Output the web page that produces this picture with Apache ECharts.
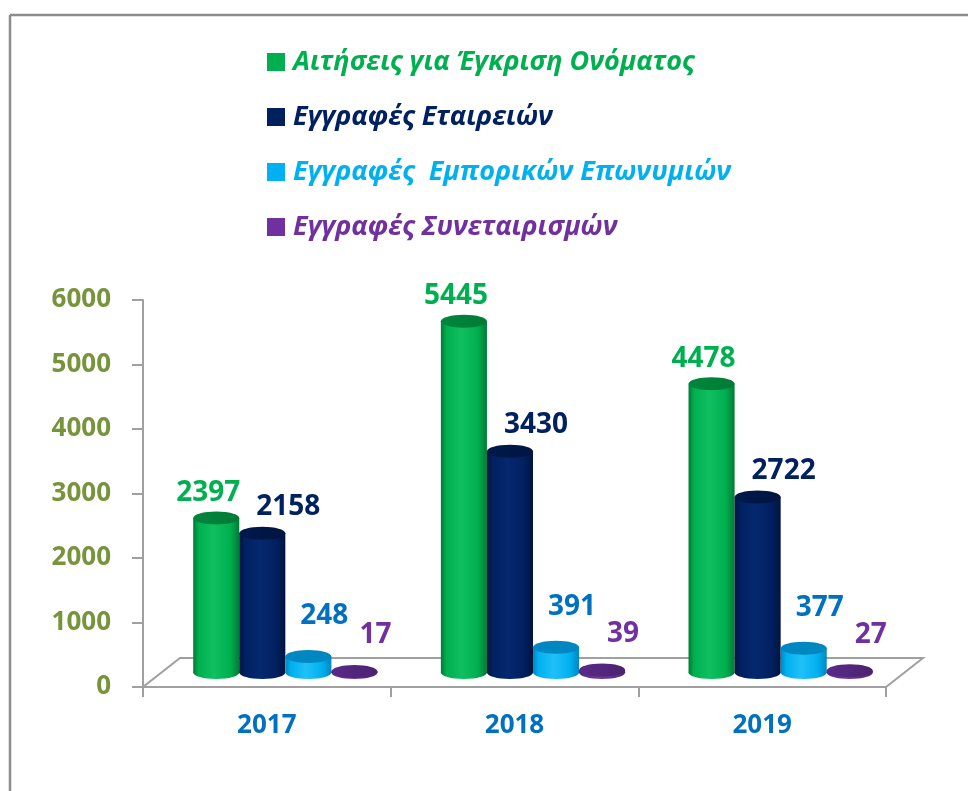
<!DOCTYPE html>
<html>
<head>
<meta charset="utf-8">
<script src="https://cdn.jsdelivr.net/npm/echarts@6/dist/echarts.min.js"></script>
<style>
html,body{margin:0;padding:0;background:#fff;}
#chart{width:968px;height:791px;}
</style>
</head>
<body>
<div id="chart"></div>
<script>
// ---- data ----
const categories = ['2017', '2018', '2019'];
const seriesNames = [
  'Αιτήσεις για Έγκριση Ονόματος',
  'Εγγραφές Εταιρειών',
  'Εγγραφές  Εμπορικών Επωνυμιών',
  'Εγγραφές Συνεταιρισμών'
];
const nameApplications = [2397, 5445, 4478];
const companyRegistrations = [2158, 3430, 2722];
const tradeNameRegistrations = [248, 391, 377];
const cooperativeRegistrations = [17, 39, 27];
const yMin = 0, yMax = 6000, yInterval = 1000;

// ---- styles ----
const FONT = '"Open Sans", "Noto Sans", sans-serif';
const styles = [
  { edge: '#007A35', mid: '#00B050', light: '#10C060', top: '#00873D', label: '#00B050', legend: '#00B050', labelDx: -8, labelDy: -25 },
  { edge: '#00143F', mid: '#002060', light: '#06286E', top: '#001A4D', label: '#002060', legend: '#002060', labelDx: 26, labelDy: -26 },
  { edge: '#0086C0', mid: '#00B0F0', light: '#20C0F8', top: '#0088C4', label: '#0070C0', legend: '#00B0F0', labelDx: 16, labelDy: -40 },
  { edge: '#4A2270', mid: '#5C2D91', light: '#6A3A9E', top: '#5C2A88', label: '#7030A0', legend: '#7030A0', labelDx: 21, labelDy: -36 }
];
const seriesData = [nameApplications, companyRegistrations, tradeNameRegistrations, cooperativeRegistrations];
const DEPTH_X = 37, DEPTH_Y = -29;
const BAR_FRACTION = 0.186;
const ELLIPSE_RY = 6.5;

function makeRender(k) {
  const st = styles[k];
  return function (params, api) {
    const ci = api.value(0);
    const v = api.value(1);
    const base = api.coord([ci, 0]);
    const top = api.coord([ci, v]);
    const band = api.size([1, 0])[0];
    const w = band * BAR_FRACTION;
    const x0 = base[0] - 2 * w + k * w;
    const cx = x0 + w / 2;
    const grad = new echarts.graphic.LinearGradient(0, 0, 1, 0, [
      { offset: 0, color: st.edge },
      { offset: 0.12, color: st.mid },
      { offset: 0.45, color: st.light },
      { offset: 0.8, color: st.mid },
      { offset: 1, color: st.edge }
    ]);
    const children = [
      { type: 'ellipse', shape: { cx: cx, cy: base[1], rx: w / 2, ry: ELLIPSE_RY }, style: { fill: grad } },
      { type: 'rect', shape: { x: x0, y: top[1], width: w, height: Math.max(0, base[1] - top[1]) }, style: { fill: grad } },
      { type: 'ellipse', shape: { cx: cx, cy: top[1], rx: w / 2, ry: ELLIPSE_RY },
        style: { fill: new echarts.graphic.LinearGradient(0, 0, 1, 1, [
          { offset: 0, color: st.top }, { offset: 1, color: st.edge }]) } },
      { type: 'text', x: cx + st.labelDx, y: top[1] + st.labelDy,
        style: { text: String(v), fill: st.label, font: 'bold 28px ' + FONT, align: 'center', verticalAlign: 'middle' } }
    ];
    return { type: 'group', children: children };
  };
}

const chart = echarts.init(document.getElementById('chart'), null, { renderer: 'canvas' });

const series = [
  {
    type: 'custom', xAxisIndex: 0, yAxisIndex: 0, silent: true, z: 1,
    data: [[0, 0]],
    renderItem: function (params, api) {
      const cs = params.coordSys;
      const fx = cs.x, fy = cs.y + cs.height, fw = cs.width;
      return {
        type: 'group',
        children: [
          { type: 'polygon', shape: { points: [[fx, fy], [fx + fw, fy], [fx + fw + DEPTH_X, fy + DEPTH_Y], [fx + DEPTH_X, fy + DEPTH_Y]] },
            style: { fill: 'none', stroke: '#A0A0A0', lineWidth: 2 } },
          { type: 'line', shape: { x1: fx, y1: fy, x2: fx, y2: fy + 10 }, style: { stroke: '#A0A0A0', lineWidth: 2 } }
        ]
      };
    }
  }
];
seriesData.forEach(function (arr, k) {
  series.push({
    type: 'custom', name: seriesNames[k], xAxisIndex: 1, yAxisIndex: 1, z: 3 + k,
    itemStyle: { color: styles[k].legend },
    data: arr.map(function (v, i) { return [i, v]; }),
    renderItem: makeRender(k)
  });
});

chart.setOption({
  backgroundColor: '#ffffff',
  animation: false,
  legend: {
    orient: 'vertical', left: 262, top: 40,
    itemWidth: 18, itemHeight: 18, itemGap: 21,
    icon: 'rect',
    data: seriesNames.map(function (n, k) {
      return { name: n, icon: 'rect', itemStyle: { color: styles[k].legend },
        textStyle: { color: styles[k].legend } };
    }),
    textStyle: { fontFamily: FONT, fontSize: 27, fontStyle: 'italic', fontWeight: 'bold', lineHeight: 34, padding: [0, 0, 0, 3] }
  },
  grid: [
    { left: 143, top: 300, width: 743, height: 387 },
    { left: 143 + DEPTH_X / 2, top: 300 + DEPTH_Y / 2, width: 743, height: 387 }
  ],
  xAxis: [
    { type: 'category', gridIndex: 0, data: categories,
      axisLine: { show: true, lineStyle: { color: '#A0A0A0', width: 2 } },
      axisTick: { show: true, length: 10, lineStyle: { color: '#A0A0A0', width: 2 } },
      axisLabel: { color: '#0070C0', fontFamily: FONT, fontSize: 26, fontWeight: 'bold', margin: 26 } },
    { type: 'category', gridIndex: 1, data: categories, show: false }
  ],
  yAxis: [
    { type: 'value', gridIndex: 0, min: yMin, max: yMax, interval: yInterval,
      axisLine: { show: true, lineStyle: { color: '#A0A0A0', width: 2 } },
      axisTick: { show: true, length: 11, lineStyle: { color: '#A0A0A0', width: 2 } },
      splitLine: { show: false },
      axisLabel: { color: '#77933C', fontFamily: FONT, fontSize: 26, fontWeight: 'bold', margin: 32,
        formatter: function (v) { return String(v); } } },
    { type: 'value', gridIndex: 1, min: yMin, max: yMax, interval: yInterval, show: false, splitLine: { show: false } }
  ],
  graphic: [
    { type: 'line', shape: { x1: 10, y1: 15, x2: 968, y2: 15 }, style: { stroke: '#8C8C8C', lineWidth: 2.5 }, silent: true },
    { type: 'line', shape: { x1: 10, y1: 15, x2: 10, y2: 791 }, style: { stroke: '#8C8C8C', lineWidth: 2.5 }, silent: true }
  ],
  series: series
});
</script>
</body>
</html>
